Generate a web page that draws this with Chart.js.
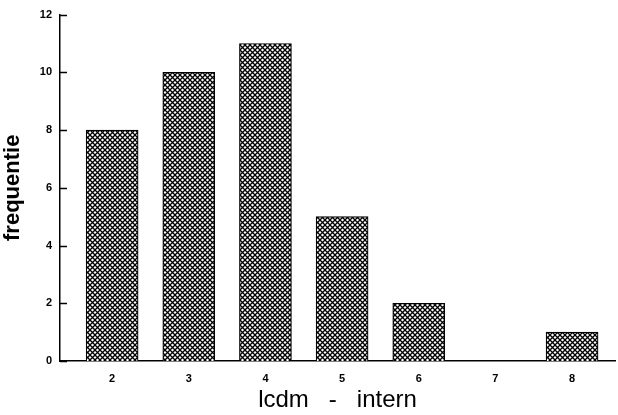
<!DOCTYPE html>
<html>
<head>
<meta charset="utf-8">
<script src="https://cdn.jsdelivr.net/npm/chart.js@4/dist/chart.umd.min.js"></script>
<style>
  html, body { margin: 0; padding: 0; background: #fff; }
  #wrap { width: 618px; height: 415px; }
</style>
</head>
<body>
<div id="wrap"><canvas id="chart" width="618" height="415"></canvas></div>
<script>
// waarden
const categories = [2, 3, 4, 5, 6, 7, 8];
const frequencies = [8, 10, 11, 5, 2, 0, 1];
const yTicks = [0, 2, 4, 6, 8, 10, 12];

// kruisarcering voor de staven
function makeHatch() {
  const n = 5;
  const c = document.createElement('canvas');
  c.width = n; c.height = n;
  const g = c.getContext('2d');
  g.fillStyle = '#fff';
  g.fillRect(0, 0, n, n);
  g.strokeStyle = '#000';
  g.lineWidth = 1.3;
  g.beginPath();
  g.moveTo(-1, -1); g.lineTo(n + 1, n + 1);
  g.moveTo(n + 1, -1); g.lineTo(-1, n + 1);
  g.stroke();
  return g.createPattern(c, 'repeat');
}

// maatstreepjes aan de binnenkant van de y-as
const innerTicks = {
  id: 'innerTicks',
  afterDraw(chart) {
    const y = chart.scales.y, ctx = chart.ctx;
    const x0 = chart.chartArea.left;
    ctx.save();
    ctx.strokeStyle = '#000';
    ctx.lineWidth = 1.5;
    yTicks.forEach(v => {
      const py = Math.round(y.getPixelForValue(v)) + 0.5;
      ctx.beginPath();
      ctx.moveTo(x0, py);
      ctx.lineTo(x0 + 7, py);
      ctx.stroke();
    });
    ctx.restore();
  }
};

const canvas = document.getElementById('chart');
new Chart(canvas, {
  type: 'bar',
  data: {
    datasets: [{
      data: categories.map((c, i) => ({ x: c, y: frequencies[i] })),
      backgroundColor: makeHatch(),
      borderColor: '#000',
      borderWidth: 1.2,
      barThickness: 52,
    }]
  },
  options: {
    responsive: false,
    animation: false,
    layout: { padding: { top: 12, right: 3, left: 0, bottom: 0 } },
    plugins: { legend: { display: false }, tooltip: { enabled: false } },
    scales: {
      x: {
        type: 'linear',
        offset: false,
        min: 1.32,
        max: 8.56,
        afterBuildTicks: s => { s.ticks = categories.map(v => ({ value: v })); },
        afterFit: s => { s.height = 54; },
        border: { color: '#000', width: 1.5 },
        grid: { display: false, drawTicks: false },
        ticks: {
          color: '#000',
          padding: 11,
          font: { family: 'Liberation Sans', size: 11, weight: 'bold' }
        },
        title: {
          display: true,
          text: 'lcdm   -   intern',
          color: '#000',
          padding: { top: 2, bottom: 0 },
          font: { family: 'Liberation Sans', size: 24 }
        }
      },
      y: {
        min: 0,
        max: 12,
        afterBuildTicks: s => { s.ticks = yTicks.map(v => ({ value: v })); },
        afterFit: s => { s.width = 60; },
        border: { color: '#000', width: 1.5 },
        grid: { display: false, drawTicks: false },
        ticks: {
          color: '#000',
          padding: 8,
          font: { family: 'Liberation Sans', size: 11, weight: 'bold' }
        },
        title: {
          display: true,
          text: 'frequentie',
          color: '#000',
          padding: { top: 0, bottom: 0 },
          font: { family: 'Liberation Sans', size: 22, weight: 'bold' }
        }
      }
    }
  },
  plugins: [innerTicks]
});
</script>
</body>
</html>
